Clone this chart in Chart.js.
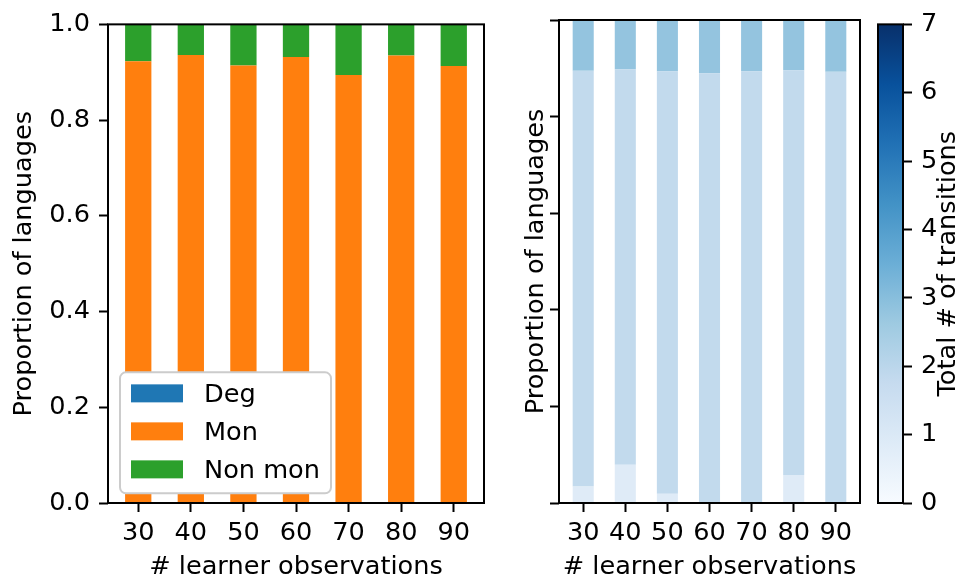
<!DOCTYPE html>
<html><head><meta charset="utf-8">
<script src="https://cdn.jsdelivr.net/npm/chart.js@4.4.0/dist/chart.umd.min.js"></script>
<style>
html,body{margin:0;padding:0;background:#fff;}
#wrap{position:relative;width:971px;height:580px;background:#fff;overflow:hidden;}
canvas{position:absolute;top:0;}
</style></head><body>
<div id="wrap">
<canvas id="left" width="500" height="580" style="left:0px"></canvas>
<canvas id="right" width="370" height="580" style="left:500px"></canvas>
<canvas id="cbar" width="101" height="580" style="left:870px"></canvas>
</div>
<script>
// ---- data ----
const categories = ['30', '40', '50', '60', '70', '80', '90'];
const degValues    = [0, 0, 0, 0, 0, 0, 0];
const monValues    = [0.923, 0.936, 0.914, 0.932, 0.894, 0.935, 0.913];
const nonMonValues = [0.077, 0.064, 0.086, 0.068, 0.106, 0.065, 0.087];
const leftLabels = ['Deg', 'Mon', 'Non mon'];

const transitionCounts = [1, 2, 3];
const trans1Values = [0.034, 0.079, 0.019, 0, 0, 0.058, 0];
const trans2Values = [0.861, 0.819, 0.875, 0.890, 0.894, 0.838, 0.893];
const trans3Values = [0.105, 0.102, 0.106, 0.110, 0.106, 0.104, 0.107];
const yTicks = [0, 0.2, 0.4, 0.6, 0.8, 1.0];
const colorbarRange = [0, 7];
const colorbarTicks = [0, 1, 2, 3, 4, 5, 6, 7];

// ---- styling helpers ----
const FS = 25.6;
Chart.defaults.font.family = '"DejaVu Sans", sans-serif';
Chart.defaults.font.size = FS;
Chart.defaults.color = '#000';

const bluesStops = [[0,'#f7fbff'],[0.125,'#deebf7'],[0.25,'#c6dbef'],[0.375,'#9ecae1'],[0.5,'#6baed6'],[0.625,'#4292c6'],[0.75,'#2171b5'],[0.875,'#08519c'],[1,'#08306b']];
function hex2rgb(h){return [parseInt(h.slice(1,3),16),parseInt(h.slice(3,5),16),parseInt(h.slice(5,7),16)];}
function blues(t, alpha){
  t = Math.max(0, Math.min(1, t));
  for (let i = 0; i < bluesStops.length - 1; i++) {
    const [t0, c0] = bluesStops[i], [t1, c1] = bluesStops[i+1];
    if (t <= t1) {
      const f = (t - t0) / (t1 - t0), a = hex2rgb(c0), b = hex2rgb(c1);
      const c = a.map((v, k) => Math.round(v + (b[k] - v) * f));
      return `rgba(${c[0]},${c[1]},${c[2]},${alpha})`;
    }
  }
  return bluesStops[bluesStops.length-1][1];
}

const framePlugin = {
  id: 'frame',
  afterDatasetsDraw(chart) {
    const a = chart.chartArea, c = chart.ctx;
    c.save(); c.strokeStyle = '#000'; c.lineWidth = 2;
    c.strokeRect(a.left, a.top, a.right - a.left, a.bottom - a.top);
    c.restore();
  }
};

const boxLegendPlugin = {
  id: 'boxLegend',
  afterDraw(chart) {
    const c = chart.ctx, a = chart.chartArea;
    const bx = a.left + 12, by = a.top + 348, bw = 211, bh = 121;
    c.save();
    c.beginPath();
    c.roundRect(bx, by, bw, bh, 6);
    c.fillStyle = '#ffffff'; c.fill();
    c.strokeStyle = '#cccccc'; c.lineWidth = 2; c.stroke();
    c.font = FS + 'px "DejaVu Sans"'; c.textBaseline = 'middle'; c.textAlign = 'left';
    chart.data.datasets.forEach((ds, i) => {
      const cy = by + 21 + i * 38;
      c.fillStyle = ds.backgroundColor;
      c.fillRect(bx + 11, cy - 9, 52, 18);
      c.fillStyle = '#000';
      c.fillText(ds.label, bx + 84, cy + 2);
    });
    c.restore();
  }
};

const cbTitlePlugin = {
  id: 'cbTitle',
  afterDraw(chart) {
    const c = chart.ctx, a = chart.chartArea;
    c.save();
    c.translate(a.right + 45, (a.top + a.bottom) / 2);
    c.rotate(-Math.PI / 2);
    c.font = FS + 'px "DejaVu Sans"'; c.fillStyle = '#000';
    c.textAlign = 'center'; c.textBaseline = 'middle';
    c.fillText('Total # of transitions', 0, 0);
    c.restore();
  }
};

const tickGrid = { drawOnChartArea: false, offset: false, tickLength: 9, tickWidth: 2, tickColor: '#000' };

function xScale() {
  return {
    type: 'linear', stacked: true, offset: false, min: -0.575, max: 6.575,
    afterBuildTicks: s => { s.ticks = categories.map((c, i) => ({ value: i })); },
    ticks: { callback: v => categories[v], padding: 6, maxRotation: 0, autoSkip: false },
    grid: tickGrid, border: { display: false },
    title: { display: true, text: '# learner observations', font: { size: FS, lineHeight: 1 }, padding: { top: 0, bottom: 0 } },
    afterFit: s => { s.height = 77; }
  };
}
function yScale(showLabels, width, titlePad) {
  return {
    stacked: true, min: 0, max: 1,
    afterBuildTicks: s => { s.ticks = yTicks.map(v => ({ value: v })); },
    ticks: { display: showLabels, callback: v => v.toFixed(1), padding: 9 },
    grid: tickGrid, border: { display: false },
    title: { display: true, text: 'Proportion of languages', font: { size: FS, lineHeight: 1 }, padding: { top: titlePad, bottom: 0 } },
    afterFit: s => { s.width = width; }
  };
}
const toPts = arr => arr.map((v, i) => ({ x: i, y: v }));

// ---- left chart ----
new Chart(document.getElementById('left'), {
  type: 'bar',
  data: { datasets: [
    { label: leftLabels[0], data: toPts(degValues), backgroundColor: '#1f77b4' },
    { label: leftLabels[1], data: toPts(monValues), backgroundColor: '#ff7f0e' },
    { label: leftLabels[2], data: toPts(nonMonValues), backgroundColor: '#2ca02c' }
  ] },
  options: {
    responsive: false, animation: false, devicePixelRatio: 1,
    layout: { padding: { top: 20, right: 16, bottom: 0, left: 0 } },
    datasets: { bar: { barPercentage: 0.5, categoryPercentage: 1, borderWidth: 0 } },
    plugins: { legend: { display: false }, tooltip: { enabled: false } },
    scales: { x: xScale(), y: yScale(true, 108, 11.5) }
  },
  plugins: [framePlugin, boxLegendPlugin]
});

// ---- right chart ----
const transSeries = [trans1Values, trans2Values, trans3Values];
new Chart(document.getElementById('right'), {
  type: 'bar',
  data: { datasets: transitionCounts.map((n, k) => ({
    label: n + ' transitions', data: toPts(transSeries[k]),
    backgroundColor: blues(n / colorbarRange[1], 0.9)
  })) },
  options: {
    responsive: false, animation: false, devicePixelRatio: 1,
    layout: { padding: { top: 20, right: 10, bottom: 0, left: 0 } },
    datasets: { bar: { barPercentage: 0.5, categoryPercentage: 1, borderWidth: 0 } },
    plugins: { legend: { display: false }, tooltip: { enabled: false } },
    scales: { x: xScale(), y: yScale(false, 59, 23.5) }
  },
  plugins: [framePlugin]
});

// ---- colorbar ----
new Chart(document.getElementById('cbar'), {
  type: 'bar',
  data: { labels: ['cb'], datasets: [{
    data: [colorbarRange],
    borderWidth: 0, barPercentage: 1, categoryPercentage: 1,
    backgroundColor: ctx => {
      const a = ctx.chart.chartArea;
      if (!a) return 'rgba(0,0,0,0)';
      const g = ctx.chart.ctx.createLinearGradient(0, a.bottom, 0, a.top);
      bluesStops.forEach(([t, c]) => g.addColorStop(t, c));
      return g;
    }
  }] },
  options: {
    responsive: false, animation: false, devicePixelRatio: 1,
    layout: { padding: { top: 20, right: 0, bottom: 77, left: 8 } },
    plugins: { legend: { display: false }, tooltip: { enabled: false } },
    scales: {
      x: { display: false },
      y: {
        position: 'right', min: colorbarRange[0], max: colorbarRange[1],
        afterBuildTicks: s => { s.ticks = colorbarTicks.map(v => ({ value: v })); },
        ticks: { padding: 9 },
        grid: tickGrid, border: { display: false },
        afterFit: s => { s.width = 68; }
      }
    }
  },
  plugins: [framePlugin, cbTitlePlugin]
});
</script>
</body></html>
